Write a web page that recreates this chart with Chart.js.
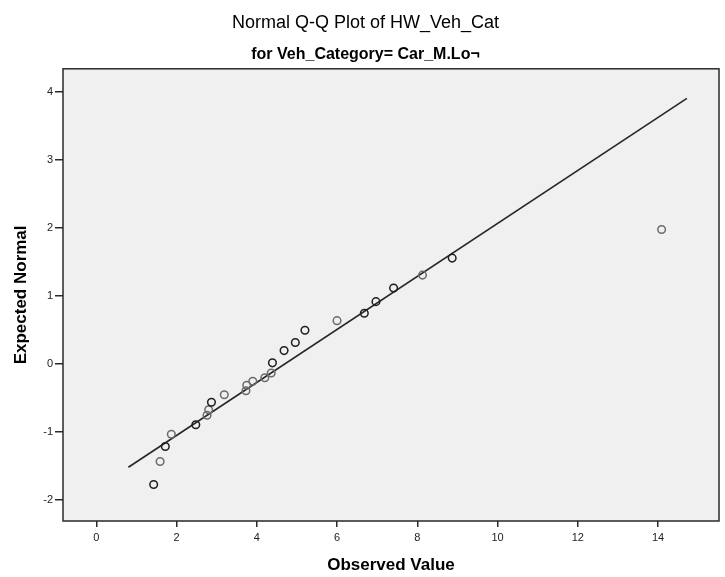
<!DOCTYPE html>
<html>
<head>
<meta charset="utf-8">
<title>Normal Q-Q Plot of HW_Veh_Cat</title>
<script src="https://cdn.jsdelivr.net/npm/chart.js@4/dist/chart.umd.min.js"></script>
<style>
  html, body { margin: 0; padding: 0; background: #ffffff; }
  #wrap { width: 725px; height: 577px; }
</style>
</head>
<body>
<div id="wrap"><canvas id="qq" width="725" height="577"></canvas></div>
<script>
// Observed values and their expected normal scores
const observedValues = [1.43, 1.59, 1.72, 1.87, 2.48, 2.76, 2.80, 2.87, 3.19, 3.73, 3.75, 3.90, 4.20,
                        4.36, 4.39, 4.68, 4.96, 5.20, 6.00, 6.68, 6.97, 7.41, 8.13, 8.87, 14.09];
const expectedNormal = [-1.78, -1.44, -1.22, -1.04, -0.90, -0.76, -0.68, -0.57, -0.46, -0.40, -0.32, -0.26, -0.21,
                        -0.14, 0.01, 0.19, 0.31, 0.49, 0.63, 0.74, 0.91, 1.11, 1.30, 1.55, 1.97];
// Number of cases sharing each plotted position (tied values overlap)
const caseCounts = [2, 1, 2, 1, 2, 1, 1, 2, 1, 1, 1, 1, 1,
                    1, 2, 2, 2, 2, 1, 2, 2, 2, 1, 2, 1];
// Reference line end points (observed value, expected normal)
const refLineX = [0.80, 14.72];
const refLineY = [-1.525, 3.90];
// Axis tick values
const xTicks = [0, 2, 4, 6, 8, 10, 12, 14];
const yTicks = [-2, -1, 0, 1, 2, 3, 4];

const FONT = "'Liberation Sans', Arial, Helvetica, sans-serif";

const points = observedValues.map((x, i) => ({ x: x, y: expectedNormal[i] }));
const linePts = refLineX.map((x, i) => ({ x: x, y: refLineY[i] }));
const pointColors = caseCounts.map(c => c > 1 ? '#1e1e1e' : '#6a6a6a');

// Plot background, frame, and a small rightward shift of the heading boxes
const plotFrame = {
  id: 'plotFrame',
  afterLayout(chart) {
    chart.boxes.forEach(b => {
      if (b.position === 'top' && b.options && typeof b.options.text === 'string') {
        b.left += 12;
      }
    });
  },
  beforeDatasetsDraw(chart) {
    const { ctx, chartArea: a } = chart;
    ctx.save();
    ctx.fillStyle = '#f0f0f0';
    ctx.fillRect(a.left, a.top, a.right - a.left, a.bottom - a.top);
    ctx.restore();
  },
  afterDraw(chart) {
    const { ctx, chartArea: a } = chart;
    ctx.save();
    ctx.strokeStyle = '#2a2a2a';
    ctx.lineWidth = 1.5;
    ctx.strokeRect(a.left, a.top, a.right - a.left, a.bottom - a.top);
    ctx.restore();
  }
};

new Chart(document.getElementById('qq'), {
  type: 'scatter',
  data: {
    datasets: [
      {
        type: 'line',
        data: linePts,
        borderColor: '#262626',
        borderWidth: 1.6,
        pointRadius: 0,
        fill: false,
        order: 2
      },
      {
        data: points,
        pointStyle: 'circle',
        pointRadius: 3.8,
        pointBorderWidth: 1.5,
        pointBorderColor: pointColors,
        pointBackgroundColor: 'rgba(0,0,0,0)',
        showLine: false,
        order: 1
      }
    ]
  },
  options: {
    responsive: false,
    animation: false,
    devicePixelRatio: 1,
    layout: { padding: { left: 0, right: 6, top: 0, bottom: 0 } },
    plugins: {
      legend: { display: false },
      tooltip: { enabled: false },
      title: {
        display: true,
        text: 'Normal Q-Q Plot of HW_Veh_Cat',
        color: '#000',
        font: { family: FONT, size: 18, weight: 'normal' },
        padding: { top: 12, bottom: 0 }
      },
      subtitle: {
        display: true,
        text: 'for Veh_Category= Car_M.Lo\u00ac',
        color: '#000',
        font: { family: FONT, size: 16, weight: 'bold' },
        padding: { top: 11, bottom: 5 }
      }
    },
    scales: {
      x: {
        type: 'linear',
        min: -0.83,
        max: 15.52,
        afterBuildTicks: s => { s.ticks = xTicks.map(v => ({ value: v })); },
        afterFit: s => { s.height = 56; },
        border: { display: false },
        grid: { drawOnChartArea: false, drawTicks: true, tickLength: 6, color: '#2a2a2a', lineWidth: 1.5 },
        ticks: { color: '#222', font: { family: FONT, size: 11 }, padding: 4, maxRotation: 0 },
        title: {
          display: true,
          text: 'Observed Value',
          color: '#000',
          font: { family: FONT, size: 17, weight: 'bold' },
          padding: { top: 0, bottom: 1 }
        }
      },
      y: {
        type: 'linear',
        min: -2.316,
        max: 4.334,
        afterBuildTicks: s => { s.ticks = yTicks.map(v => ({ value: v })); },
        afterFit: s => { s.width = 63; },
        border: { display: false },
        grid: { drawOnChartArea: false, drawTicks: true, tickLength: 8, color: '#2a2a2a', lineWidth: 1.5 },
        ticks: { color: '#222', font: { family: FONT, size: 11 }, padding: 2 },
        title: {
          display: true,
          text: 'Expected Normal',
          color: '#000',
          font: { family: FONT, size: 17, weight: 'bold' },
          padding: { top: 11, bottom: 0 }
        }
      }
    }
  },
  plugins: [plotFrame]
});
</script>
</body>
</html>
